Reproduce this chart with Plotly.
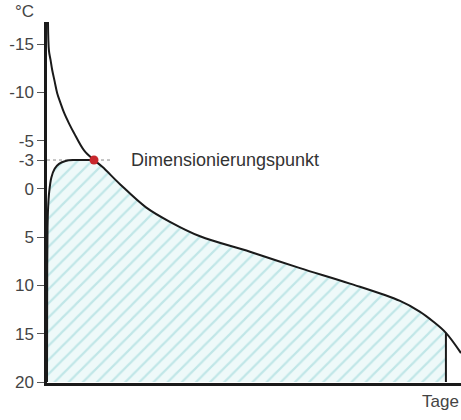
import plotly.graph_objects as go
import numpy as np

# Outer curve (Außentemperatur-Dauerlinie): days vs temperature (°C, axis reversed)
outer_days = [0.9, 1.8, 3.2, 4.8, 6.9, 9.4, 12.4, 15.6, 20.1, 24.7, 33.9, 43.0, 50.6,
              66.8, 90.6, 112.5, 140, 185.7, 231.5, 277.2, 323, 341, 353, 365, 378.8]
outer_temp = [-17.3, -14.3, -13.4, -12.3, -11.2, -9.9, -8.9, -7.9, -6.8, -5.8, -4.0, -3.0, -2.3,
              -0.5, 1.9, 3.4, 4.9, 6.5, 8.2, 9.8, 11.6, 12.7, 13.7, 14.9, 17.0]

# Inner curve (limited by the dimensioning point)
inner_days = [0.0, 0.2, 0.5, 1.0, 2.0, 4.0, 7.0, 11.0, 17.0, 25.0, 43.0]
inner_temp = [20.0, 8.0, 4.0, 2.0, 0.3, -1.2, -2.1, -2.6, -2.9, -3.0, -3.0]

dim_day = 43.0
dim_temp = -3.0
dim_label = "Dimensionierungspunkt"
year_end = 365

y_tickvals = [-15, -10, -5, -3, 0, 5, 10, 15, 20]
y_ticktext = ["-15", "-10", "-5", "-3", "0", "5", "10", "15", "20"]

font_family = "Liberation Sans, Arial, sans-serif"

fig = go.Figure()

# baseline for the hatched area
fig.add_trace(go.Scatter(x=[0, year_end], y=[20, 20], mode="lines",
                         line=dict(width=0), hoverinfo="skip", showlegend=False))

# fill boundary: inner curve, then outer curve after the dimensioning point up to 365 days
fill_x = list(inner_days) + [d for d in outer_days if dim_day < d <= year_end]
fill_y = list(inner_temp) + [t for d, t in zip(outer_days, outer_temp) if dim_day < d <= year_end]
fig.add_trace(go.Scatter(
    x=fill_x, y=fill_y, mode="lines", line=dict(width=0, shape="spline"),
    fill="tonexty",
    fillpattern=dict(shape="/", fgcolor="#93d4d6", bgcolor="#eef9f9", size=10, solidity=0.22),
    hoverinfo="skip", showlegend=False))

# dotted leader line at -3 °C
fig.add_trace(go.Scatter(x=[0, 60], y=[dim_temp, dim_temp], mode="lines",
                         line=dict(color="#8a8a8a", width=1, dash="dot"),
                         showlegend=False, hoverinfo="skip"))

# outer curve
fig.add_trace(go.Scatter(x=outer_days, y=outer_temp, mode="lines",
                         line=dict(color="#1a1a1a", width=2, shape="spline"),
                         showlegend=False))
# inner curve
fig.add_trace(go.Scatter(x=inner_days, y=inner_temp, mode="lines",
                         line=dict(color="#1a1a1a", width=2, shape="spline"),
                         showlegend=False))
# vertical line at end of year
y_end = float(np.interp(year_end, outer_days, outer_temp))
fig.add_trace(go.Scatter(x=[year_end, year_end], y=[y_end, 20], mode="lines",
                         line=dict(color="#1a1a1a", width=2), showlegend=False))
# dimensioning point
fig.add_trace(go.Scatter(x=[dim_day], y=[dim_temp], mode="markers",
                         marker=dict(color="#c8282d", size=9), showlegend=False))

fig.add_annotation(x=dim_day + 32, y=dim_temp, text=dim_label, showarrow=False,
                   xanchor="left", yanchor="middle",
                   font=dict(family=font_family, size=18, color="#333333"))
fig.add_annotation(xref="paper", yref="paper", x=-0.027, y=1.028, text="°C",
                   showarrow=False, xanchor="right", yanchor="middle",
                   font=dict(family=font_family, size=17, color="#444444"))
fig.add_annotation(xref="paper", yref="paper", x=1.0, y=-0.05, text="Tage",
                   showarrow=False, xanchor="right", yanchor="middle",
                   font=dict(family=font_family, size=17, color="#444444"))

fig.update_layout(
    width=461, height=420,
    margin=dict(l=47, r=0, t=22, b=37),
    paper_bgcolor="white", plot_bgcolor="white",
    showlegend=False,
    xaxis=dict(range=[0, 378.8], showline=True, linecolor="#1a1a1a", linewidth=2.5,
               showticklabels=False, ticks="", showgrid=False, zeroline=False),
    yaxis=dict(range=[20.1, -17.3], showline=True, linecolor="#1a1a1a", linewidth=2.5,
               tickvals=y_tickvals, ticktext=y_ticktext, ticks="outside", ticklen=7,
               tickwidth=1, tickcolor="#555555",
               tickfont=dict(family=font_family, size=17, color="#444444"),
               showgrid=False, zeroline=False),
)

fig.write_html("out.html", config={"displayModeBar": False},
               post_script="document.body.style.margin='0';document.body.style.overflow='hidden';")
